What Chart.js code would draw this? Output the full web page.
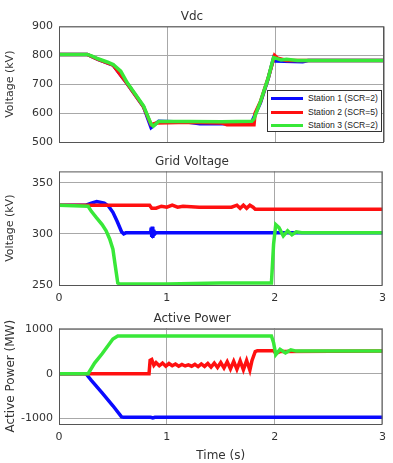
<!DOCTYPE html>
<html>
<head>
<meta charset="utf-8">
<script src="https://cdn.jsdelivr.net/npm/chart.js@4"></script>
<style>
  body { margin: 0; background: #fff; }
  #wrap { position: relative; width: 393px; height: 463px; }
  #wrap canvas { position: absolute; left: 0; top: 0; }
  .legend {
    position: absolute; left: 267px; top: 90px; width: 113px; height: 40px;
    border: 1px solid #333; background: #fff; z-index: 5;
    font: 8.6px "Liberation Sans", Arial, sans-serif; color: #222;
  }
  .legend .row { position: absolute; left: 0; height: 12px; line-height: 12px; }
  .legend .swatch { position: absolute; left: 3px; top: 5px; width: 32px; height: 3px; }
  .legend .txt { position: absolute; left: 40px; top: 0; white-space: nowrap; }
</style>
</head>
<body>
<div id="wrap">
  <canvas id="vdc" width="393" height="463"></canvas>
  <canvas id="grid" width="393" height="463"></canvas>
  <canvas id="power" width="393" height="463"></canvas>
  <div class="legend" id="legend"></div>
</div>
<script>
const stationNames = ['Station 1 (SCR=2)', 'Station 2 (SCR=5)', 'Station 3 (SCR=2)'];
const stationColors = ['#0a0aff', '#ff1010', '#38e838'];

const timeTicks = [0, 1, 2, 3];
const vdcTicks = [500, 600, 700, 800, 900];
const gridTicks = [250, 300, 350];
const powerTicks = [-1000, 0, 1000];

// Vdc (kV)
const vdcT1 = [0, 0.26, 0.36, 0.5, 0.63, 0.78, 0.85, 0.87, 0.92, 1.2, 1.3, 1.6, 1.78, 1.86, 1.93, 1.98, 2.0, 2.25, 2.3, 3];
const vdcV1 = [803, 803, 786, 766, 702, 622, 550, 556, 572, 568, 563, 563, 570, 636, 718, 790, 780, 778, 782, 782];
const vdcT2 = [0, 0.26, 0.36, 0.5, 0.63, 0.78, 0.85, 0.9, 1.2, 1.5, 1.55, 1.8, 1.81, 1.86, 1.93, 1.99, 2.02, 2.1, 3];
const vdcV2 = [803, 803, 786, 766, 702, 622, 560, 566, 568, 566, 560, 560, 600, 640, 720, 800, 790, 782, 782];
const vdcT3 = [0, 0.26, 0.3, 0.36, 0.45, 0.5, 0.57, 0.63, 0.7, 0.78, 0.85, 0.87, 0.92, 1.2, 1.5, 1.78, 1.8, 1.86, 1.93, 1.98, 2.0, 2.05, 2.1, 2.2, 3];
const vdcV3 = [803, 803, 798, 788, 776, 768, 745, 705, 668, 625, 562, 555, 571, 571, 570, 572, 580, 640, 720, 792, 790, 784, 786, 782, 782];

// Grid voltage (kV)
const gridT1 = [0, 0.25, 0.3, 0.35, 0.42, 0.46, 0.5, 0.54, 0.58, 0.6, 0.62, 0.85, 0.855, 0.86, 0.865, 0.87, 0.875, 0.88, 0.9, 3];
const gridV1 = [328, 328, 330, 331.5, 330, 327, 321, 312, 302, 300, 301, 301, 306, 297, 307, 296, 304, 299, 301, 301];
const gridT2 = [0, 0.84, 0.86, 0.9, 0.95, 1.0, 1.05, 1.1, 1.15, 1.3, 1.6, 1.65, 1.68, 1.71, 1.74, 1.77, 1.8, 1.82, 3];
const gridV2 = [328, 328, 325, 325, 327, 326, 328, 326, 327, 326, 326, 328, 325, 328, 325, 328, 326, 324, 324];
const gridT3 = [0, 0.27, 0.3, 0.345, 0.4, 0.437, 0.47, 0.5, 0.52, 0.545, 0.56, 1.0, 1.5, 1.97, 1.99, 2.01, 2.04, 2.08, 2.12, 2.16, 2.2, 2.25, 3];
const gridV3 = [328, 327, 322, 316, 309, 303, 295, 285, 270, 252, 251, 251, 252, 252, 290, 309, 306, 298, 303, 299, 302, 301, 301];

// Active power (MW)
const powT1 = [0, 0.25, 0.3, 0.4, 0.5, 0.58, 0.6, 0.85, 0.87, 0.89, 3];
const powV1 = [0, 0, -150, -430, -720, -970, -980, -980, -995, -980, -980];
const powT2 = [0, 0.835, 0.845, 0.86, 0.88, 0.9, 0.93, 0.96, 0.99, 1.02, 1.05, 1.08, 1.11, 1.14, 1.17, 1.2, 1.23, 1.26, 1.29, 1.32, 1.35, 1.38, 1.41, 1.44, 1.47, 1.5, 1.53, 1.56, 1.59, 1.62, 1.65, 1.68, 1.71, 1.74, 1.77, 1.79, 1.82, 1.84, 1.99, 2.01, 2.05, 3];
const powV2 = [0, 0, 300, 320, 190, 250, 180, 240, 170, 230, 180, 220, 170, 210, 175, 200, 170, 210, 160, 220, 165, 230, 150, 240, 140, 250, 130, 270, 110, 280, 100, 290, 90, 300, 80, 300, 500, 520, 520, 460, 500, 510];
const powT3 = [0, 0.27, 0.33, 0.4, 0.5, 0.545, 1.97, 1.99, 2.01, 2.05, 2.1, 2.15, 2.2, 2.25, 3];
const powV3 = [0, 0, 240, 450, 780, 850, 850, 700, 430, 550, 470, 540, 510, 510, 510];

const FONT = '"DejaVu Sans", sans-serif';

function pts(t, v) {
  return t.map((x, i) => ({ x: x, y: v[i] }));
}

function makeSets(series) {
  return series.map((s, i) => ({
    label: stationNames[i],
    data: pts(s[0], s[1]),
    borderColor: stationColors[i],
    borderWidth: 3.5,
    pointRadius: 0,
    tension: 0,
    fill: false,
    order: series.length - i  // station 3 on top
  }));
}

const framePlugin = {
  id: 'frame',
  afterDraw(chart) {
    const a = chart.chartArea, ctx = chart.ctx;
    ctx.save();
    ctx.strokeStyle = '#555';
    ctx.lineWidth = 1;
    ctx.strokeRect(a.left + 0.5, a.top + 0.5, a.right - a.left - 1, a.bottom - a.top);
    ctx.restore();
  }
};

function makeChart(id, cfg) {
  return new Chart(document.getElementById(id), {
    type: 'line',
    data: { datasets: makeSets(cfg.series) },
    plugins: [framePlugin],
    options: {
      responsive: false,
      animation: false,
      events: [],
      layout: { padding: cfg.padding },
      plugins: {
        legend: { display: false },
        tooltip: { enabled: false },
        title: {
          display: true,
          text: cfg.title,
          color: '#333',
          font: { family: FONT, size: 12, weight: 'normal' },
          padding: { top: 0, bottom: 2 }
        }
      },
      scales: {
        x: {
          type: 'linear',
          min: 0,
          max: 3,
          afterBuildTicks: s => { s.ticks = timeTicks.map(v => ({ value: v })); },
          afterFit: s => { s.height = cfg.xHeight; },
          grid: { color: '#a8a8a8', drawTicks: false },
          border: { display: false },
          ticks: { display: cfg.showX, padding: 7, color: '#333', font: { family: FONT, size: 11 }, callback: v => String(v) },
          title: {
            display: !!cfg.xTitle,
            text: cfg.xTitle || '',
            color: '#333',
            padding: { top: 1, bottom: 0 },
            font: { family: FONT, size: 12 }
          }
        },
        y: {
          min: cfg.yMin,
          max: cfg.yMax,
          afterBuildTicks: s => { s.ticks = cfg.yTicks.map(v => ({ value: v })); },
          afterFit: s => { s.width = 59; },
          grid: { color: '#a8a8a8', drawTicks: false },
          border: { display: false },
          ticks: { padding: 6, color: '#333', font: { family: FONT, size: 11 }, callback: v => String(v) },
          title: {
            display: true,
            text: cfg.yTitle,
            color: '#333',
            padding: { top: 4, bottom: 0 },
            font: { family: FONT, size: cfg.yTitleSize }
          }
        }
      }
    }
  });
}

makeChart('vdc', {
  title: 'Vdc',
  series: [[vdcT1, vdcV1], [vdcT2, vdcV2], [vdcT3, vdcV3]],
  padding: { top: 10, bottom: 321, left: 0, right: 9 },
  xHeight: 0,
  showX: false,
  yMin: 500, yMax: 900, yTicks: vdcTicks,
  yTitle: 'Voltage (kV)', yTitleSize: 11
});

makeChart('grid', {
  title: 'Grid Voltage',
  series: [[gridT1, gridV1], [gridT2, gridV2], [gridT3, gridV3]],
  padding: { top: 155, bottom: 158, left: 0, right: 9 },
  xHeight: 20,
  showX: true,
  yMin: 250, yMax: 361, yTicks: gridTicks,
  yTitle: 'Voltage (kV)', yTitleSize: 11
});

makeChart('power', {
  title: 'Active Power',
  series: [[powT1, powV1], [powT2, powV2], [powT3, powV3]],
  padding: { top: 312, bottom: 0, left: 0, right: 9 },
  xHeight: 39,
  showX: true,
  xTitle: 'Time (s)',
  yMin: -1130, yMax: 1020, yTicks: powerTicks,
  yTitle: 'Active Power (MW)', yTitleSize: 12
});

// legend box inside the Vdc panel
const legend = document.getElementById('legend');
stationNames.forEach((name, i) => {
  const row = document.createElement('div');
  row.className = 'row';
  row.style.top = (1 + i * 13.5) + 'px';
  row.innerHTML = '<span class="swatch" style="background:' + stationColors[i] + '"></span><span class="txt">' + name + '</span>';
  legend.appendChild(row);
});
</script>
</body>
</html>
